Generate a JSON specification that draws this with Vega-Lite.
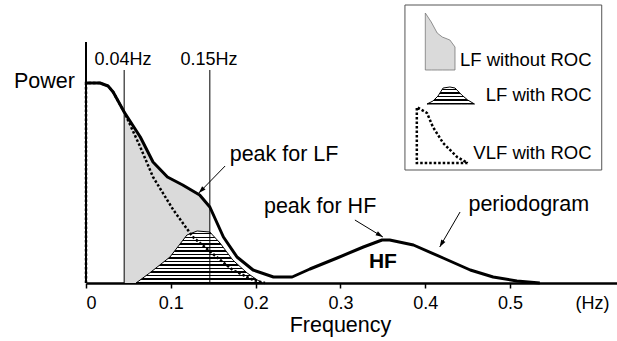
{
  "$schema": "https://vega.github.io/schema/vega-lite/v6.json",
  "width": 531,
  "height": 283,
  "autosize": {"type": "none"},
  "padding": {"left": 86, "top": 0, "right": 0, "bottom": 58},
  "background": "white",
  "config": {"view": {"stroke": null}, "font": "Liberation Sans"},
  "datasets": {
    "period": [
      {"x": 0, "y": 200}, {"x": 0.0165, "y": 200}, {"x": 0.026, "y": 197}, {"x": 0.032, "y": 191},
      {"x": 0.045, "y": 171}, {"x": 0.064, "y": 146}, {"x": 0.079, "y": 121}, {"x": 0.096, "y": 106},
      {"x": 0.114, "y": 98}, {"x": 0.134, "y": 88}, {"x": 0.146, "y": 76}, {"x": 0.162, "y": 46},
      {"x": 0.178, "y": 26}, {"x": 0.197, "y": 13}, {"x": 0.221, "y": 6}, {"x": 0.243, "y": 6},
      {"x": 0.264, "y": 14}, {"x": 0.296, "y": 25}, {"x": 0.327, "y": 36}, {"x": 0.349, "y": 43},
      {"x": 0.358, "y": 43}, {"x": 0.386, "y": 38}, {"x": 0.421, "y": 25}, {"x": 0.453, "y": 13},
      {"x": 0.48, "y": 6}, {"x": 0.508, "y": 2}, {"x": 0.535, "y": 0}
    ],
    "stip": [
      {"x": 0.045, "y": 171}, {"x": 0.064, "y": 146}, {"x": 0.079, "y": 121}, {"x": 0.096, "y": 106},
      {"x": 0.114, "y": 98}, {"x": 0.134, "y": 88}, {"x": 0.146, "y": 76}
    ],
    "hatch": [
      {"x": 0.059, "y": 0}, {"x": 0.075, "y": 10}, {"x": 0.099, "y": 26}, {"x": 0.119, "y": 48},
      {"x": 0.131, "y": 52}, {"x": 0.146, "y": 51}, {"x": 0.158, "y": 40}, {"x": 0.173, "y": 23},
      {"x": 0.19, "y": 10}, {"x": 0.202, "y": 3}, {"x": 0.208, "y": 0}
    ],
    "vlf": [
      {"i": 0, "x": 0, "y": 0}, {"i": 1, "x": 0, "y": 200}, {"i": 2, "x": 0.0165, "y": 200},
      {"i": 3, "x": 0.026, "y": 197}, {"i": 4, "x": 0.032, "y": 191}, {"i": 5, "x": 0.045, "y": 171},
      {"i": 6, "x": 0.064, "y": 136}, {"i": 7, "x": 0.079, "y": 106}, {"i": 8, "x": 0.103, "y": 73},
      {"i": 9, "x": 0.126, "y": 46}, {"i": 10, "x": 0.154, "y": 26}, {"i": 11, "x": 0.173, "y": 13},
      {"i": 12, "x": 0.197, "y": 3}, {"i": 13, "x": 0.211, "y": 0}
    ],
    "vrules": [{"x": 0.045, "y": 0, "y2": 213}, {"x": 0.146, "y": 0, "y2": 213}],
    "yaxis": [{"x": 0, "y": 0, "y2": 241}],
    "legbox": [{"x": 0.376, "x2": 0.608, "y": 113, "y2": 278}],
    "legstip": [
      {"x": 0.4, "y": 270}, {"x": 0.407, "y": 261}, {"x": 0.414, "y": 250}, {"x": 0.42, "y": 246},
      {"x": 0.429, "y": 243}, {"x": 0.435, "y": 236}
    ],
    "leghatch": [
      {"x": 0.402, "y": 179}, {"x": 0.409, "y": 182}, {"x": 0.415, "y": 187}, {"x": 0.421, "y": 195},
      {"x": 0.429, "y": 196}, {"x": 0.435, "y": 195}, {"x": 0.443, "y": 188}, {"x": 0.45, "y": 183},
      {"x": 0.458, "y": 179}
    ],
    "legvlf": [
      {"i": 0, "x": 0.45, "y": 120}, {"i": 1, "x": 0.39, "y": 120}, {"i": 2, "x": 0.39, "y": 176},
      {"i": 3, "x": 0.402, "y": 170}, {"i": 4, "x": 0.409, "y": 156}, {"i": 5, "x": 0.421, "y": 140},
      {"i": 6, "x": 0.4375, "y": 126}, {"i": 7, "x": 0.45, "y": 120}
    ],
    "bigtext": [
      {"text": "peak for LF", "x": 0.2335, "y": 128},
      {"text": "peak for HF", "x": 0.276, "y": 76},
      {"text": "periodogram", "x": 0.522, "y": 78}
    ],
    "power": [{"text": "Power", "x": -0.013, "y": 201}],
    "smalltext": [
      {"text": "0.04Hz", "x": 0.0436, "y": 223},
      {"text": "0.15Hz", "x": 0.145, "y": 223},
      {"text": "(Hz)", "x": 0.597, "y": -21}
    ],
    "legtext": [
      {"text": "LF without ROC", "x": 0.596, "y": 223},
      {"text": "LF with ROC", "x": 0.596, "y": 188},
      {"text": "VLF with ROC", "x": 0.596, "y": 130}
    ],
    "hf": [{"text": "HF", "x": 0.35, "y": 21}],
    "arrows": [
      {"x": 0.164, "y": 117, "x2": 0.133, "y2": 90},
      {"x": 0.317, "y": 63, "x2": 0.35, "y2": 46},
      {"x": 0.441, "y": 71, "x2": 0.417, "y2": 36}
    ],
    "heads": [
      {"x": 0.133, "y": 90, "angle": 224},
      {"x": 0.35, "y": 46, "angle": 121},
      {"x": 0.417, "y": 36, "angle": 210}
    ]
  },
  "encoding": {
    "x": {
      "field": "x", "type": "quantitative",
      "scale": {"domain": [0, 0.626], "nice": false, "zero": false},
      "axis": {
        "values": [0, 0.1, 0.2, 0.3, 0.4, 0.5], "format": ".1~f", "grid": false,
        "domainColor": "black", "domainWidth": 2.5, "tickColor": "black", "tickWidth": 1.5, "tickSize": 5,
        "labelFont": "Liberation Sans", "labelFontSize": 18, "labelColor": "black", "labelPadding": 6,
        "title": "Frequency", "titleFont": "Liberation Sans", "titleFontSize": 21.5, "titleFontWeight": "normal",
        "titleColor": "black", "titleX": 254, "titlePadding": 2
      }
    },
    "y": {"field": "y", "type": "quantitative", "scale": {"domain": [0, 283], "nice": false, "zero": false}, "axis": null}
  },
  "layer": [
    {"data": {"name": "stip"}, "mark": {"type": "area", "color": "#dadada"}, "encoding": {"y2": {"datum": 0}}},
    {"data": {"name": "hatch"}, "mark": {"type": "area", "stroke": "black", "strokeWidth": 1,
      "fill": {"gradient": "linear", "x1": 0, "y1": 0, "x2": 0, "y2": 1, "stops": [
        {"offset": 0, "color": "white"}, {"offset": 0.04, "color": "white"}, {"offset": 0.04, "color": "black"}, {"offset": 0.0667, "color": "black"},
        {"offset": 0.0667, "color": "white"}, {"offset": 0.1067, "color": "white"}, {"offset": 0.1067, "color": "black"}, {"offset": 0.1333, "color": "black"},
        {"offset": 0.1333, "color": "white"}, {"offset": 0.1733, "color": "white"}, {"offset": 0.1733, "color": "black"}, {"offset": 0.2, "color": "black"},
        {"offset": 0.2, "color": "white"}, {"offset": 0.24, "color": "white"}, {"offset": 0.24, "color": "black"}, {"offset": 0.2667, "color": "black"},
        {"offset": 0.2667, "color": "white"}, {"offset": 0.3067, "color": "white"}, {"offset": 0.3067, "color": "black"}, {"offset": 0.3333, "color": "black"},
        {"offset": 0.3333, "color": "white"}, {"offset": 0.3733, "color": "white"}, {"offset": 0.3733, "color": "black"}, {"offset": 0.4, "color": "black"},
        {"offset": 0.4, "color": "white"}, {"offset": 0.44, "color": "white"}, {"offset": 0.44, "color": "black"}, {"offset": 0.4667, "color": "black"},
        {"offset": 0.4667, "color": "white"}, {"offset": 0.5067, "color": "white"}, {"offset": 0.5067, "color": "black"}, {"offset": 0.5333, "color": "black"},
        {"offset": 0.5333, "color": "white"}, {"offset": 0.5733, "color": "white"}, {"offset": 0.5733, "color": "black"}, {"offset": 0.6, "color": "black"},
        {"offset": 0.6, "color": "white"}, {"offset": 0.64, "color": "white"}, {"offset": 0.64, "color": "black"}, {"offset": 0.6667, "color": "black"},
        {"offset": 0.6667, "color": "white"}, {"offset": 0.7067, "color": "white"}, {"offset": 0.7067, "color": "black"}, {"offset": 0.7333, "color": "black"},
        {"offset": 0.7333, "color": "white"}, {"offset": 0.7733, "color": "white"}, {"offset": 0.7733, "color": "black"}, {"offset": 0.8, "color": "black"},
        {"offset": 0.8, "color": "white"}, {"offset": 0.84, "color": "white"}, {"offset": 0.84, "color": "black"}, {"offset": 0.8667, "color": "black"},
        {"offset": 0.8667, "color": "white"}, {"offset": 0.9067, "color": "white"}, {"offset": 0.9067, "color": "black"}, {"offset": 0.9333, "color": "black"},
        {"offset": 0.9333, "color": "white"}, {"offset": 0.9733, "color": "white"}, {"offset": 0.9733, "color": "black"}, {"offset": 1, "color": "black"}
      ]}}, "encoding": {"y2": {"datum": 0}}},
    {"data": {"name": "vrules"}, "mark": {"type": "rule", "color": "black", "strokeWidth": 1}, "encoding": {"y2": {"field": "y2"}}},
    {"data": {"name": "vlf"}, "mark": {"type": "line", "color": "black", "strokeWidth": 2.5, "strokeDash": [2.5, 2]}, "encoding": {"order": {"field": "i", "type": "quantitative"}}},
    {"data": {"name": "period"}, "mark": {"type": "line", "color": "black", "strokeWidth": 3, "strokeJoin": "round"}, "encoding": {}},
    {"data": {"name": "yaxis"}, "mark": {"type": "rule", "color": "black", "strokeWidth": 2}, "encoding": {"y2": {"field": "y2"}}},
    {"data": {"name": "legbox"}, "mark": {"type": "rect", "fill": "white", "stroke": "#555555", "strokeWidth": 1}, "encoding": {"x2": {"field": "x2"}, "y2": {"field": "y2"}}},
    {"data": {"name": "legstip"}, "mark": {"type": "area", "fill": "#dadada", "stroke": "#777777", "strokeWidth": 0.8}, "encoding": {"y2": {"datum": 213}}},
    {"data": {"name": "leghatch"}, "mark": {"type": "area", "stroke": "black", "strokeWidth": 1,
      "fill": {"gradient": "linear", "x1": 0, "y1": 0, "x2": 0, "y2": 1, "stops": [
        {"offset": 0, "color": "white"}, {"offset": 0.12, "color": "white"}, {"offset": 0.12, "color": "black"}, {"offset": 0.2, "color": "black"},
        {"offset": 0.2, "color": "white"}, {"offset": 0.32, "color": "white"}, {"offset": 0.32, "color": "black"}, {"offset": 0.4, "color": "black"},
        {"offset": 0.4, "color": "white"}, {"offset": 0.52, "color": "white"}, {"offset": 0.52, "color": "black"}, {"offset": 0.6, "color": "black"},
        {"offset": 0.6, "color": "white"}, {"offset": 0.72, "color": "white"}, {"offset": 0.72, "color": "black"}, {"offset": 0.8, "color": "black"},
        {"offset": 0.8, "color": "white"}, {"offset": 0.92, "color": "white"}, {"offset": 0.92, "color": "black"}, {"offset": 1, "color": "black"}
      ]}}, "encoding": {"y2": {"datum": 179}}},
    {"data": {"name": "legvlf"}, "mark": {"type": "line", "color": "black", "strokeWidth": 2.5, "strokeDash": [2.5, 2]}, "encoding": {"order": {"field": "i", "type": "quantitative"}}},
    {"data": {"name": "bigtext"}, "mark": {"type": "text", "fontSize": 21.5, "align": "center", "baseline": "middle", "color": "black"}, "encoding": {"text": {"field": "text"}}},
    {"data": {"name": "power"}, "mark": {"type": "text", "fontSize": 21.5, "align": "right", "baseline": "middle", "color": "black"}, "encoding": {"text": {"field": "text"}}},
    {"data": {"name": "smalltext"}, "mark": {"type": "text", "fontSize": 18, "align": "center", "baseline": "middle", "color": "black"}, "encoding": {"text": {"field": "text"}}},
    {"data": {"name": "legtext"}, "mark": {"type": "text", "fontSize": 18.5, "align": "right", "baseline": "middle", "color": "black"}, "encoding": {"text": {"field": "text"}}},
    {"data": {"name": "hf"}, "mark": {"type": "text", "fontSize": 21, "fontWeight": "bold", "align": "center", "baseline": "middle", "color": "black"}, "encoding": {"text": {"field": "text"}}},
    {"data": {"name": "arrows"}, "mark": {"type": "rule", "color": "black", "strokeWidth": 1}, "encoding": {"x2": {"field": "x2"}, "y2": {"field": "y2"}}},
    {"data": {"name": "heads"}, "mark": {"type": "point", "shape": "M0,0L-0.4,1.2L0.4,1.2Z", "filled": true, "color": "black", "size": 144, "opacity": 1}, "encoding": {"angle": {"field": "angle", "type": "quantitative", "scale": null}}}
  ]
}
